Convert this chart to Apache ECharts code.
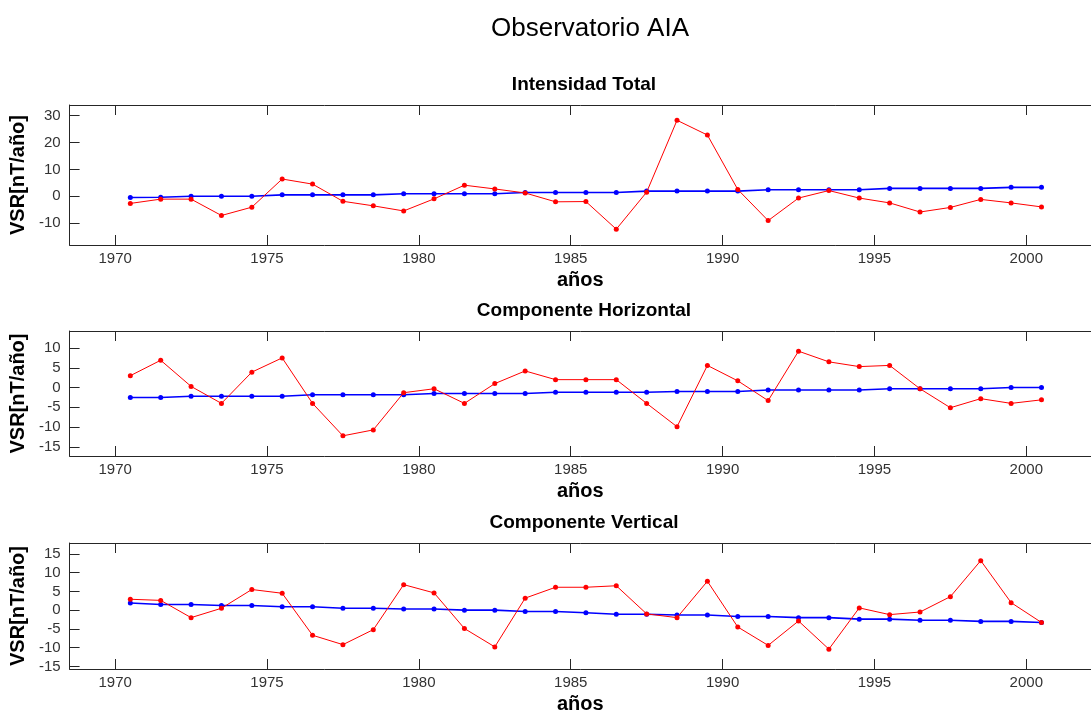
<!DOCTYPE html>
<html>
<head>
<meta charset="utf-8">
<script src="https://cdn.jsdelivr.net/npm/echarts@6/dist/echarts.min.js"></script>
<style>
html,body{margin:0;padding:0;background:#fff;}
#chart{width:1091px;height:716px;}
</style>
</head>
<body>
<div id="chart"></div>
<script>
// ---- data ----
const years = [1970.5, 1971.5, 1972.5, 1973.5, 1974.5, 1975.5, 1976.5, 1977.5, 1978.5, 1979.5,
  1980.5, 1981.5, 1982.5, 1983.5, 1984.5, 1985.5, 1986.5, 1987.5, 1988.5, 1989.5,
  1990.5, 1991.5, 1992.5, 1993.5, 1994.5, 1995.5, 1996.5, 1997.5, 1998.5, 1999.5, 2000.5];

const totalObs = [-2.7, -1.1, -1.1, -7.2, -4.1, 6.4, 4.5, -1.9, -3.6, -5.5,
  -1.0, 4.1, 2.7, 1.2, -2.1, -2.0, -12.3, 1.5, 28.3, 22.8,
  2.5, -9.1, -0.7, 2.1, -0.7, -2.5, -5.9, -4.2, -1.2, -2.5, -4.0];
const totalFit = [-0.5, -0.4, 0.0, 0.0, 0.0, 0.5, 0.5, 0.5, 0.5, 0.9,
  0.9, 0.9, 0.9, 1.4, 1.4, 1.4, 1.4, 1.9, 1.9, 1.9,
  1.9, 2.4, 2.4, 2.4, 2.4, 2.9, 2.9, 2.9, 2.9, 3.3, 3.3];

const horizObs = [3.0, 6.9, 0.3, -4.0, 3.9, 7.5, -4.0, -12.2, -10.7, -1.3,
  -0.3, -4.0, 1.0, 4.2, 2.0, 2.0, 2.0, -4.0, -9.9, 5.6,
  1.7, -3.3, 9.2, 6.5, 5.3, 5.6, -0.3, -5.1, -2.8, -4.0, -3.1];
const horizFit = [-2.5, -2.5, -2.2, -2.2, -2.2, -2.2, -1.8, -1.8, -1.8, -1.8,
  -1.5, -1.5, -1.5, -1.5, -1.2, -1.2, -1.2, -1.2, -1.0, -1.0,
  -1.0, -0.6, -0.6, -0.6, -0.6, -0.3, -0.3, -0.3, -0.3, 0.0, 0.0];

const vertObs = [2.9, 2.6, -2.0, 0.5, 5.5, 4.5, -6.7, -9.2, -5.2, 6.8,
  4.6, -4.9, -9.8, 3.2, 6.1, 6.1, 6.5, -1.0, -2.0, 7.7,
  -4.5, -9.4, -2.9, -10.4, 0.6, -1.2, -0.5, 3.6, 13.2, 2.0, -3.3];
const vertFit = [1.9, 1.5, 1.5, 1.25, 1.25, 0.9, 0.9, 0.5, 0.5, 0.3,
  0.3, 0.0, 0.0, -0.35, -0.35, -0.7, -1.1, -1.1, -1.3, -1.3,
  -1.7, -1.7, -2.0, -2.0, -2.4, -2.4, -2.7, -2.7, -3.0, -3.0, -3.3];

const xTicks = [1970, 1975, 1980, 1985, 1990, 1995, 2000];
const yTicksTotal = [-10, 0, 10, 20, 30];
const yTicksHoriz = [-15, -10, -5, 0, 5, 10];
const yTicksVert = [-15, -10, -5, 0, 5, 10, 15];

const mainTitle = 'Observatorio AIA';
const panelTitles = ['Intensidad Total', 'Componente Horizontal', 'Componente Vertical'];
const yName = 'VSR[nT/año]';
const xName = 'años';

// ---- layout / style ----
const FONT = '"Liberation Sans", Arial, Helvetica, sans-serif';
const AX = '#262626';
const panels = [
  {top: 105, height: 140, min: -18.2, max: 34, ticks: yTicksTotal, obs: totalObs, fit: totalFit},
  {top: 331, height: 125, min: -17.3, max: 14.3, ticks: yTicksHoriz, obs: horizObs, fit: horizFit},
  {top: 543, height: 126, min: -15.7, max: 17.9, ticks: yTicksVert, obs: vertObs, fit: vertFit}
];
const GRID_LEFT = 67, GRID_RIGHT = 0;
// axes box continues past the right edge of the figure (cropped in the reference)
const XMIN = 1968.5, XMAX = 2002.13;

const grids = [], xAxes = [], yAxes = [], series = [], graphics = [];
const pair = (arr) => years.map((y, i) => [y, arr[i]]);

panels.forEach((p, k) => {
  grids.push({left: GRID_LEFT, right: GRID_RIGHT, top: p.top, height: p.height, show: false});
  // bottom x axis
  xAxes.push({
    type: 'value', gridIndex: k, position: 'bottom', min: XMIN, max: XMAX,
    name: xName, nameLocation: 'middle', nameGap: 25,
    nameTextStyle: {fontFamily: FONT, fontSize: 20, fontWeight: 'bold', color: '#000'},
    axisLine: {show: true, onZero: false, lineStyle: {color: AX, width: 1}},
    axisTick: {show: true, inside: true, length: 10, customValues: xTicks, lineStyle: {color: AX}},
    axisLabel: {show: true, customValues: xTicks, margin: 6, fontFamily: FONT, fontSize: 15, color: '#333',
      formatter: (v) => String(v)},
    splitLine: {show: false}
  });
  // top x axis (box edge + ticks only)
  xAxes.push({
    type: 'value', gridIndex: k, position: 'top', min: XMIN, max: XMAX,
    axisLine: {show: true, onZero: false, lineStyle: {color: AX, width: 1}},
    axisTick: {show: true, inside: true, length: 10, customValues: xTicks, lineStyle: {color: AX}},
    axisLabel: {show: false},
    splitLine: {show: false}
  });
  yAxes.push({
    type: 'value', gridIndex: k, position: 'left', min: p.min, max: p.max,
    name: yName, nameLocation: 'middle', nameRotate: 90, nameGap: 33,
    nameTextStyle: {fontFamily: FONT, fontSize: 20, fontWeight: 'bold', color: '#000'},
    axisLine: {show: true, onZero: false, lineStyle: {color: AX, width: 1}},
    axisTick: {show: true, inside: true, length: 10, customValues: p.ticks, lineStyle: {color: AX}},
    axisLabel: {show: true, customValues: p.ticks, margin: 9, fontFamily: FONT, fontSize: 15, color: '#333'},
    splitLine: {show: false}
  });
  series.push({
    type: 'line', xAxisIndex: 2 * k, yAxisIndex: k, data: pair(p.fit),
    symbol: 'circle', symbolSize: 5, showSymbol: true,
    lineStyle: {color: '#0000ff', width: 1.6}, itemStyle: {color: '#0000ff'},
    emphasis: {disabled: true}, z: 2
  });
  series.push({
    type: 'line', xAxisIndex: 2 * k, yAxisIndex: k, data: pair(p.obs),
    symbol: 'circle', symbolSize: 5, showSymbol: true,
    lineStyle: {color: '#ff0000', width: 1}, itemStyle: {color: '#ff0000'},
    emphasis: {disabled: true}, z: 3
  });
  graphics.push({
    type: 'text', x: 584, y: p.top - 20,
    style: {text: panelTitles[k], align: 'center', verticalAlign: 'middle',
      fontFamily: FONT, fontSize: 19, fontWeight: 'bold', fill: '#000'}
  });
});

graphics.push({
  type: 'text', x: 590, y: 29,
  style: {text: mainTitle, align: 'center', verticalAlign: 'middle',
    fontFamily: FONT, fontSize: 26, fontWeight: 'normal', fill: '#000'}
});

const chart = echarts.init(document.getElementById('chart'), null, {renderer: 'canvas'});
chart.setOption({
  animation: false,
  backgroundColor: '#fff',
  grid: grids,
  xAxis: xAxes,
  yAxis: yAxes,
  series: series,
  graphic: graphics
});
</script>
</body>
</html>
